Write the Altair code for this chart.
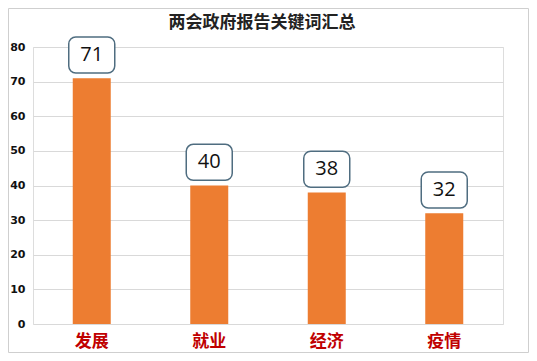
import altair as alt
import pandas as pd

categories = ["发展", "就业", "经济", "疫情"]
values = [71, 40, 38, 32]
y_ticks = [0, 10, 20, 30, 40, 50, 60, 70, 80]
title_text = "两会政府报告关键词汇总"

df = pd.DataFrame({"cat": categories, "val": values})

W, H = 470, 277
PL, PT, PR, PB = 25, 39, 26, 29

x_axis = alt.Axis(labelColor="#c00000", labelFontSize=17, labelFontWeight="bold",
                  labelFont="Noto Sans CJK SC", labelAngle=0, labelPadding=9,
                  ticks=False, domain=False, grid=False)
x_scale = alt.Scale(paddingInner=0.68, paddingOuter=0.34)
y_axis = alt.Axis(values=y_ticks, labelFontSize=11, labelFontWeight="bold",
                  labelColor="#111", labelFont="DejaVu Sans", labelPadding=8,
                  labelOverlap=False, ticks=False, domain=False,
                  gridColor="#d9d9d9", gridWidth=1)
y_scale = alt.Scale(domain=[0, 80], nice=False)

def X():
    return alt.X("cat:N", sort=categories, title=None, scale=x_scale, axis=x_axis)

base = alt.Chart(df)

bars = base.mark_bar(color="#ed7d31", width=38).encode(
    x=X(),
    y=alt.Y("val:Q", scale=y_scale, title=None, axis=y_axis),
)

boxes = base.transform_calculate(
    lo="datum.val + 1.5", hi="datum.val + 11.9"
).mark_bar(width=46, fill="white", stroke="#4f6d80", strokeWidth=1.5, cornerRadius=7).encode(
    x=X(),
    y=alt.Y("lo:Q", scale=y_scale, title=None, axis=y_axis),
    y2="hi:Q",
)

labels = base.transform_calculate(
    mid="datum.val + 6.7"
).mark_text(fontSize=20, color="#111", font="Open Sans", baseline="middle").encode(
    x=X(),
    y=alt.Y("mid:Q", scale=y_scale, title=None, axis=y_axis),
    text="val:Q",
)

border = alt.Chart(pd.DataFrame({"k": [0]})).mark_rect(
    fill="transparent", stroke="#cfcfcf", strokeWidth=1
).encode(
    x=alt.value(-PL + 0.5), x2=alt.value(W + PR - 0.5),
    y=alt.value(-PT + 0.5), y2=alt.value(H + PB - 0.5)
)

title = alt.Chart(pd.DataFrame({"t": [title_text]})).mark_text(
    fontSize=17, fontWeight="bold", font="Noto Sans CJK SC", color="#222", baseline="middle"
).encode(
    x=alt.value(229), y=alt.value(-24), text="t:N"
)

chart = alt.layer(bars, boxes, labels, title, border).properties(
    width=W, height=H,
    autosize=alt.AutoSizeParams(type="none"),
    padding={"left": PL, "top": PT, "right": PR, "bottom": PB},
).configure_view(stroke=None).configure(background="white")

chart.save("out.html", embed_options={"renderer": "svg", "actions": False})
